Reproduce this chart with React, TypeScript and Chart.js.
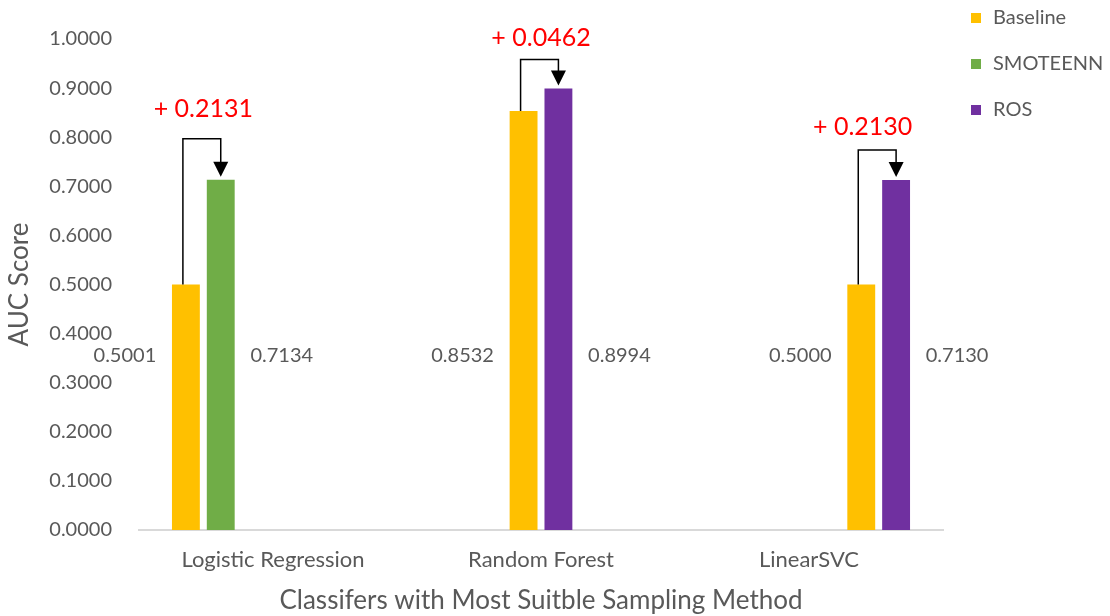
import React, { useEffect, useRef } from "react";
import { Chart, registerables } from "chart.js";

Chart.register(...registerables);

const categories = ["Logistic Regression", "Random Forest", "LinearSVC"];
const seriesNames = ["Baseline", "SMOTEENN", "ROS"];
const seriesColors = ["#FFC000", "#70AD47", "#7030A0"];
const baselineScores = [0.5001, 0.8532, 0.5];
const sampledScores = [0.7134, 0.8994, 0.713];
const sampledMethod = ["SMOTEENN", "ROS", "ROS"];
const gainLabels = ["+ 0.2131", "+ 0.0462", "+ 0.2130"];
const xTitle = "Classifers with Most Suitble Sampling Method";
const yTitle = "AUC Score";

// styling of the hand-placed callouts (pixels, relative to the bars)
const ARROW_RISE = [41, 29, 30];
const GAIN_LIFT = [30, 21, 23];
const GAIN_SHIFT = [0, 0, -16];

const FONT = "Lato, 'Open Sans', sans-serif";
const GREY = "#595959";
const W = 1110;
const H = 616;

function colorOf(name: string) {
  return seriesColors[seriesNames.indexOf(name)];
}

function buildDatasets() {
  const ds: any[] = [];
  categories.forEach((_, i) => {
    ds.push({
      label: "Baseline",
      data: categories.map((__, j) => (j === i ? baselineScores[i] : null)),
      backgroundColor: colorOf("Baseline"),
    });
    ds.push({
      label: sampledMethod[i],
      data: categories.map((__, j) => (j === i ? sampledScores[i] : null)),
      backgroundColor: colorOf(sampledMethod[i]),
    });
  });
  return ds;
}

const annotatePlugin = {
  id: "annotate",
  afterDatasetsDraw(chart: any) {
    const ctx = chart.ctx;
    const yScale = chart.scales.y;
    const labelY = yScale.getPixelForValue(0.355);
    ctx.save();
    categories.forEach((_, i) => {
      const baseEl = chart.getDatasetMeta(2 * i).data[i];
      const sampEl = chart.getDatasetMeta(2 * i + 1).data[i];
      // value labels
      ctx.font = `20px ${FONT}`;
      ctx.fillStyle = GREY;
      ctx.textAlign = "center";
      ctx.textBaseline = "middle";
      ctx.fillText(baselineScores[i].toFixed(4), baseEl.x - 61, labelY);
      ctx.fillText(sampledScores[i].toFixed(4), sampEl.x + 61, labelY);
      // connector arrow
      const level = Math.min(baseEl.y, sampEl.y) - ARROW_RISE[i];
      const tip = sampEl.y - 3;
      ctx.strokeStyle = "#000";
      ctx.lineWidth = 1.5;
      ctx.beginPath();
      ctx.moveTo(baseEl.x - 3, baseEl.y);
      ctx.lineTo(baseEl.x - 3, level);
      ctx.lineTo(sampEl.x, level);
      ctx.lineTo(sampEl.x, tip - 12);
      ctx.stroke();
      ctx.fillStyle = "#000";
      ctx.beginPath();
      ctx.moveTo(sampEl.x - 7.5, tip - 15);
      ctx.lineTo(sampEl.x + 7.5, tip - 15);
      ctx.lineTo(sampEl.x, tip);
      ctx.closePath();
      ctx.fill();
      // gain label
      ctx.fillStyle = "#FF0000";
      ctx.font = `25px ${FONT}`;
      ctx.textAlign = "center";
      ctx.fillText(gainLabels[i], (baseEl.x + sampEl.x) / 2 + GAIN_SHIFT[i], level - GAIN_LIFT[i]);
    });
    ctx.restore();
  },
  afterDraw(chart: any) {
    const ctx = chart.ctx;
    ctx.save();
    ctx.font = `20px ${FONT}`;
    ctx.textAlign = "left";
    ctx.textBaseline = "middle";
    seriesNames.forEach((name, k) => {
      const cy = 18 + k * 46;
      ctx.fillStyle = seriesColors[k];
      ctx.fillRect(971, cy - 5, 10, 10);
      ctx.fillStyle = GREY;
      ctx.fillText(name, 993, cy);
    });
    ctx.restore();
  },
};

export default function App() {
  const ref = useRef<HTMLCanvasElement | null>(null);
  useEffect(() => {
    document.body.style.margin = "0";
    if (!ref.current) return;
    const chart = new Chart(ref.current, {
      type: "bar",
      data: { labels: categories, datasets: buildDatasets() },
      options: {
        responsive: false,
        animation: false,
        devicePixelRatio: 1,
        layout: { padding: { top: 37, right: 167, left: 0, bottom: 0 } },
        datasets: { bar: { categoryPercentage: 0.78, barPercentage: 0.8 } },
        plugins: {
          legend: { display: false },
          tooltip: { enabled: false },
        },
        scales: {
          x: {
            grid: { display: false, drawTicks: false },
            border: { display: true, color: "#D9D9D9", width: 2 },
            ticks: { color: GREY, font: { family: FONT, size: 22 }, padding: 17, maxRotation: 0 },
            title: {
              display: true,
              text: xTitle,
              color: GREY,
              font: { family: FONT, size: 26 },
              padding: { top: 0, bottom: 0 },
            },
            afterFit: (s: any) => {
              s.height = 86;
            },
          },
          y: {
            min: 0,
            max: 1,
            grid: { display: false, drawTicks: false },
            border: { display: false },
            ticks: {
              stepSize: 0.1,
              color: GREY,
              font: { family: FONT, size: 20 },
              padding: 27,
              callback: (v: any) => Number(v).toFixed(4),
            },
            title: {
              display: true,
              text: yTitle,
              color: GREY,
              font: { family: FONT, size: 26 },
              padding: { top: 4, bottom: 0 },
            },
            afterFit: (s: any) => {
              s.width = 139;
            },
          },
        },
      },
      plugins: [annotatePlugin],
    });
    return () => chart.destroy();
  }, []);
  return (
    <div style={{ width: W, height: H, background: "#fff" }}>
      <canvas ref={ref} width={W} height={H} style={{ display: "block" }} />
    </div>
  );
}
